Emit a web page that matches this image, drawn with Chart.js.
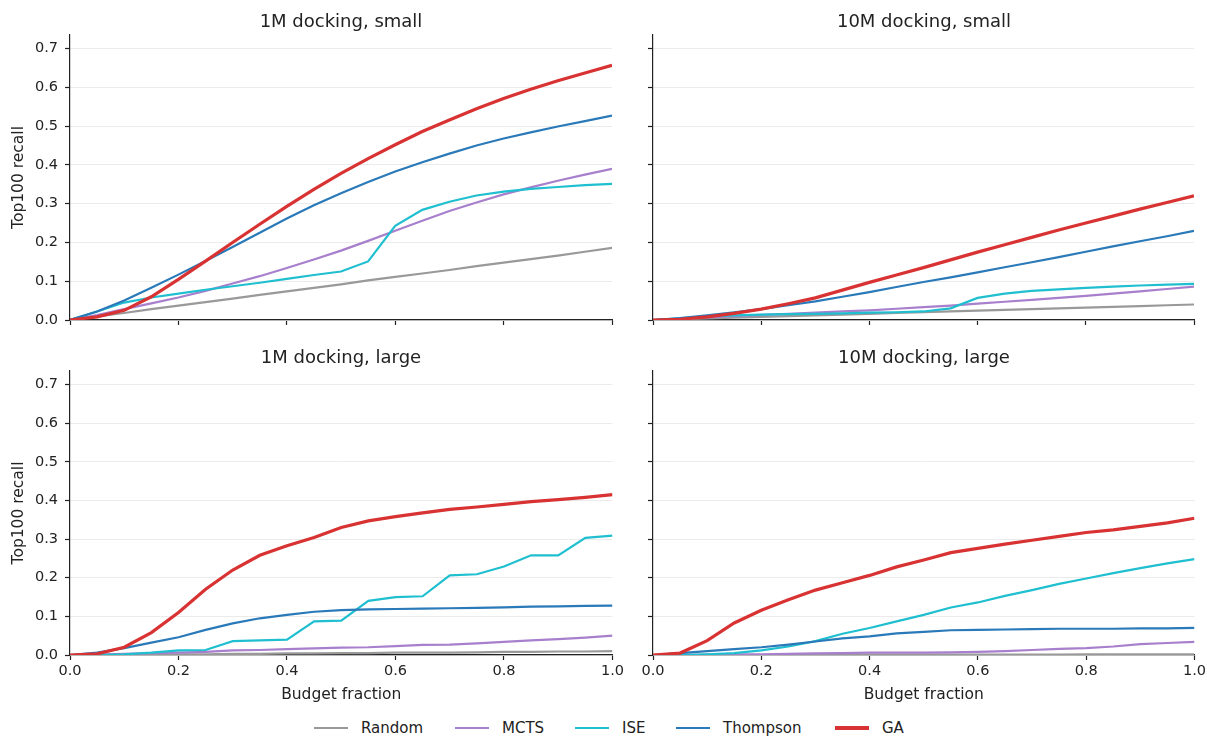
<!DOCTYPE html>
<html>
<head>
<meta charset="utf-8">
<script src="https://cdn.jsdelivr.net/npm/chart.js@4"></script>
<style>
  body { margin: 0; background: #fff; font-family: "DejaVu Sans", sans-serif; }
  #wrap { position: relative; width: 1207px; height: 736px; overflow: hidden; }
  #wrap canvas { position: absolute; }
  .title { position: absolute; font-size: 18px; color: #222; transform: translateX(-50%); white-space: nowrap; line-height: 22px; }
  .leg { position: absolute; top: 718px; height: 20px; font-size: 15px; color: #222; display: flex; align-items: center; white-space: nowrap; }
  .leg i { display: inline-block; width: 34px; margin-right: 13px; }
</style>
</head>
<body>
<div id="wrap">
  <canvas id="c1" width="625" height="340" style="left:0;top:0"></canvas>
  <canvas id="c2" width="574" height="340" style="left:633px;top:0"></canvas>
  <canvas id="c3" width="627" height="368" style="left:0;top:336px"></canvas>
  <canvas id="c4" width="576" height="368" style="left:633px;top:336px"></canvas>
  <div class="title" style="left:341px;top:10px">1M docking, small</div>
  <div class="title" style="left:924px;top:10px">10M docking, small</div>
  <div class="title" style="left:341px;top:346px">1M docking, large</div>
  <div class="title" style="left:924px;top:346px">10M docking, large</div>
  <div id="legend"></div>
</div>
<script>
// budget fraction sampled every 0.05
const budget = [0, 0.05, 0.1, 0.15, 0.2, 0.25, 0.3, 0.35, 0.4, 0.45, 0.5, 0.55, 0.6, 0.65, 0.7, 0.75, 0.8, 0.85, 0.9, 0.95, 1.0];
const methods = ["Random", "MCTS", "ISE", "Thompson", "GA"];
const colors = ["#999999", "#a77fcc", "#1fbfd0", "#2a79b8", "#d83232"];
const widths = [2.2, 2.2, 2.2, 2.2, 3.2];
const yTicks = [0, 0.1, 0.2, 0.3, 0.4, 0.5, 0.6, 0.7];
const xTicks = [0, 0.2, 0.4, 0.6, 0.8, 1.0];

// 1M docking, small
const random1mSmall = [0, 0.009, 0.018, 0.028, 0.037, 0.046, 0.055, 0.065, 0.074, 0.083, 0.092, 0.102, 0.111, 0.120, 0.129, 0.139, 0.148, 0.157, 0.166, 0.176, 0.186];
const mcts1mSmall = [0, 0.013, 0.028, 0.043, 0.058, 0.075, 0.094, 0.113, 0.134, 0.156, 0.179, 0.204, 0.230, 0.256, 0.281, 0.303, 0.324, 0.342, 0.359, 0.375, 0.390];
const ise1mSmall = [0, 0.022, 0.045, 0.058, 0.068, 0.078, 0.087, 0.096, 0.106, 0.116, 0.125, 0.151, 0.243, 0.284, 0.305, 0.321, 0.331, 0.338, 0.343, 0.348, 0.351];
const thompson1mSmall = [0, 0.022, 0.050, 0.083, 0.117, 0.152, 0.188, 0.225, 0.262, 0.296, 0.327, 0.356, 0.383, 0.407, 0.429, 0.450, 0.468, 0.484, 0.499, 0.513, 0.527];
const ga1mSmall = [0, 0.008, 0.025, 0.060, 0.105, 0.152, 0.200, 0.247, 0.293, 0.337, 0.378, 0.416, 0.452, 0.486, 0.516, 0.545, 0.571, 0.595, 0.617, 0.637, 0.657];

// 10M docking, small
const random10mSmall = [0, 0.002, 0.004, 0.006, 0.008, 0.010, 0.012, 0.014, 0.016, 0.018, 0.020, 0.022, 0.024, 0.026, 0.028, 0.030, 0.032, 0.034, 0.036, 0.038, 0.040];
const mcts10mSmall = [0, 0.003, 0.007, 0.010, 0.013, 0.016, 0.019, 0.022, 0.025, 0.029, 0.033, 0.037, 0.042, 0.047, 0.052, 0.057, 0.062, 0.068, 0.074, 0.080, 0.086];
const ise10mSmall = [0, 0.004, 0.009, 0.012, 0.014, 0.015, 0.016, 0.017, 0.019, 0.020, 0.022, 0.030, 0.057, 0.068, 0.075, 0.079, 0.083, 0.086, 0.089, 0.091, 0.093];
const thompson10mSmall = [0, 0.005, 0.012, 0.020, 0.028, 0.038, 0.048, 0.060, 0.072, 0.085, 0.098, 0.110, 0.123, 0.136, 0.149, 0.162, 0.176, 0.190, 0.203, 0.216, 0.230];
const ga10mSmall = [0, 0.002, 0.008, 0.017, 0.028, 0.042, 0.057, 0.077, 0.097, 0.116, 0.135, 0.155, 0.175, 0.194, 0.213, 0.232, 0.250, 0.268, 0.286, 0.303, 0.320];

// 1M docking, large
const random1mLarge = [0, 0, 0.001, 0.001, 0.002, 0.002, 0.003, 0.003, 0.004, 0.004, 0.005, 0.005, 0.006, 0.006, 0.006, 0.007, 0.008, 0.008, 0.009, 0.009, 0.010];
const mcts1mLarge = [0, 0.001, 0.003, 0.005, 0.006, 0.008, 0.012, 0.013, 0.015, 0.017, 0.019, 0.020, 0.023, 0.026, 0.027, 0.030, 0.034, 0.038, 0.041, 0.045, 0.050];
const ise1mLarge = [0, 0, 0.002, 0.006, 0.012, 0.013, 0.036, 0.038, 0.040, 0.087, 0.089, 0.140, 0.150, 0.152, 0.206, 0.209, 0.229, 0.258, 0.258, 0.303, 0.309];
const thompson1mLarge = [0, 0.006, 0.018, 0.032, 0.046, 0.065, 0.082, 0.095, 0.104, 0.112, 0.116, 0.118, 0.119, 0.120, 0.121, 0.122, 0.123, 0.125, 0.126, 0.127, 0.128];
const ga1mLarge = [0, 0.003, 0.020, 0.058, 0.110, 0.170, 0.220, 0.258, 0.283, 0.304, 0.330, 0.347, 0.358, 0.368, 0.377, 0.383, 0.390, 0.397, 0.402, 0.408, 0.415];

// 10M docking, large
const random10mLarge = [0, 0, 0, 0, 0, 0, 0, 0, 0.001, 0.001, 0.001, 0.001, 0.001, 0.001, 0.001, 0.001, 0.002, 0.002, 0.002, 0.002, 0.002];
const mcts10mLarge = [0, 0, 0.001, 0.002, 0.002, 0.003, 0.004, 0.005, 0.006, 0.006, 0.006, 0.007, 0.008, 0.010, 0.013, 0.016, 0.018, 0.022, 0.028, 0.031, 0.034];
const ise10mLarge = [0, 0, 0.002, 0.005, 0.012, 0.022, 0.036, 0.055, 0.070, 0.087, 0.104, 0.123, 0.136, 0.153, 0.168, 0.184, 0.198, 0.212, 0.225, 0.237, 0.248];
const thompson10mLarge = [0, 0.005, 0.010, 0.015, 0.020, 0.027, 0.035, 0.043, 0.048, 0.056, 0.060, 0.064, 0.065, 0.066, 0.067, 0.068, 0.068, 0.068, 0.069, 0.069, 0.070];
const ga10mLarge = [0, 0.005, 0.037, 0.083, 0.116, 0.143, 0.168, 0.187, 0.206, 0.228, 0.246, 0.265, 0.276, 0.287, 0.297, 0.307, 0.317, 0.324, 0.333, 0.342, 0.354];

const family = "'DejaVu Sans', sans-serif";
const tickFont = { family, size: 14.5 };
const labelFont = { family, size: 15.5 };
const ink = "#222";

function makePanel(id, series, yLabels, xLabels, yWidth, xHeight, padRight) {
  // GA first so it paints on top
  const datasets = series.map((vals, i) => ({
    label: methods[i],
    data: vals.map((v, k) => ({ x: budget[k], y: v })),
    borderColor: colors[i],
    borderWidth: widths[i],
    pointRadius: 0,
    tension: 0,
    fill: false
  })).reverse();

  new Chart(document.getElementById(id), {
    type: "line",
    data: { datasets },
    options: {
      responsive: false,
      animation: false,
      events: [],
      layout: { padding: { top: 35, right: padRight, left: 0, bottom: 0 } },
      plugins: { legend: { display: false }, tooltip: { enabled: false } },
      scales: {
        x: {
          type: "linear",
          min: 0, max: 1,
          afterBuildTicks: (s) => { s.ticks = xTicks.map(v => ({ value: v })); },
          afterFit: (s) => { s.height = xHeight; },
          ticks: { display: xLabels, color: ink, font: tickFont, padding: 3, callback: (v) => v.toFixed(1) },
          grid: { drawOnChartArea: false, tickLength: 5, tickColor: ink, tickWidth: 1.2 },
          border: { color: ink, width: 1.2 },
          title: { display: xLabels, text: "Budget fraction", color: ink, font: labelFont, padding: { top: 4, bottom: 0 } }
        },
        y: {
          min: 0, max: 0.735,
          afterBuildTicks: (s) => { s.ticks = yTicks.map(v => ({ value: v })); },
          afterFit: (s) => { s.width = yWidth; },
          ticks: { display: yLabels, color: ink, font: tickFont, padding: 7, callback: (v) => v.toFixed(1) },
          grid: { color: "#ebebeb", lineWidth: 1, tickLength: 5, tickColor: ink, tickWidth: 1.2 },
          border: { color: ink, width: 1.2 },
          title: { display: yLabels, text: "Top100 recall", color: ink, font: labelFont, padding: { top: 10, bottom: 4 } }
        }
      }
    }
  });
}

makePanel("c1", [random1mSmall, mcts1mSmall, ise1mSmall, thompson1mSmall, ga1mSmall], true, false, 70, 20, 13);
makePanel("c2", [random10mSmall, mcts10mSmall, ise10mSmall, thompson10mSmall, ga10mSmall], false, false, 20, 20, 13);
makePanel("c3", [random1mLarge, mcts1mLarge, ise1mLarge, thompson1mLarge, ga1mLarge], true, true, 70, 49, 13);
makePanel("c4", [random10mLarge, mcts10mLarge, ise10mLarge, thompson10mLarge, ga10mLarge], false, true, 20, 49, 13);

// shared legend under the panels
const legendX = [314, 455, 575, 676, 835];
const legend = document.getElementById("legend");
methods.forEach((m, i) => {
  const d = document.createElement("div");
  d.className = "leg";
  d.style.left = legendX[i] + "px";
  d.innerHTML = `<i style="height:${widths[i]}px;background:${colors[i]}"></i>${m}`;
  legend.appendChild(d);
});
</script>
</body>
</html>
